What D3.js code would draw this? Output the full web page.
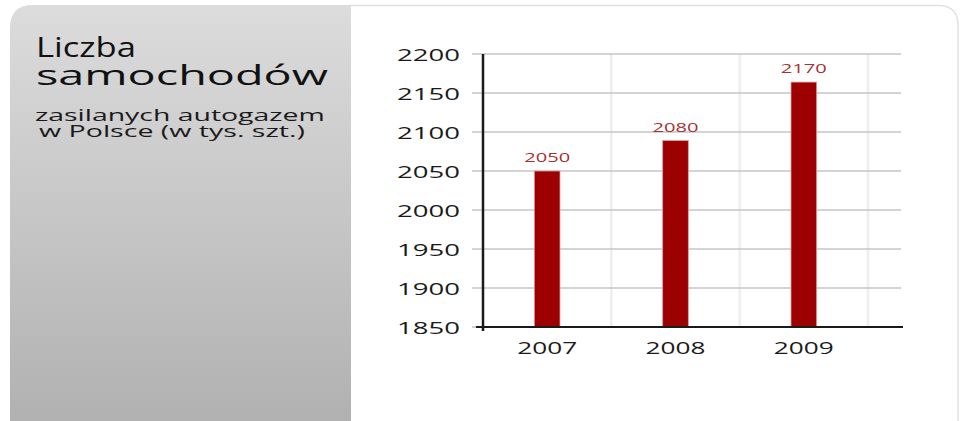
<!DOCTYPE html>
<html>
<head>
<meta charset="utf-8">
<script src="https://cdn.jsdelivr.net/npm/d3@7"></script>
<style>
  body { margin: 0; background: #fff; }
  svg { display: block; }
</style>
</head>
<body>
<svg id="viz" width="964" height="421"></svg>
<script>
// data
var years = ['2007', '2008', '2009'];
var values = [2050, 2089, 2164];          // bar tops as drawn
var valueLabels = ['2050', '2080', '2170']; // labels as printed above bars
var yTicks = [1850, 1900, 1950, 2000, 2050, 2100, 2150, 2200];
var titleLines = ['Liczba', 'samochodów'];
var subtitleLines = ['zasilanych autogazem', 'w Polsce (w tys. szt.)'];

var svg = d3.select('#viz');
var font = "'Open Sans', 'DejaVu Sans', sans-serif";

// the reference text is stretched sideways, so squeeze/stretch each text to a width
const fitWidth = (sel, width) => {
  sel.each(function () {
    var t = d3.select(this);
    var px = +t.attr('x') || 0;
    var py = +t.attr('y') || 0;
    var w = this.getComputedTextLength();
    var old = t.attr('transform') || '';
    t.attr('x', 0).attr('y', 0)
      .attr('transform', old + ' translate(' + px + ',' + py + ') scale(' + (width / w) + ',1)');
  });
};

// grey side panel with gradient
var grad = svg.append('defs').append('linearGradient')
  .attr('id', 'panelGrad')
  .attr('x1', 0).attr('y1', 0).attr('x2', 0).attr('y2', 1);
grad.append('stop').attr('offset', '0%').attr('stop-color', '#dcdcdc');
grad.append('stop').attr('offset', '100%').attr('stop-color', '#b1b1b1');

// outer frame (faint)
svg.append('path')
  .attr('d', 'M350,5.5 H938 Q958,5.5 958,25 V421')
  .attr('fill', 'none')
  .attr('stroke', '#e2e2e2')
  .attr('stroke-width', 1.5);

svg.append('path')
  .attr('d', 'M10,421 V28 Q10,5 33,5 H351 V421 Z')
  .attr('fill', 'url(#panelGrad)');

// title texts
var titleLens = [100, 292];
svg.selectAll('.title')
  .data(titleLines)
  .enter()
  .append('text')
  .attr('class', 'title')
  .attr('x', 36)
  .attr('y', function (d, i) { return 57 + i * 28; })
  .style('font-family', font)
  .style('font-size', '28px')
  .style('fill', '#111')
  .text(function (d) { return d; })
  .each(function (d, i) { fitWidth(d3.select(this), titleLens[i]); });

var subLens = [290, 266];
svg.selectAll('.subtitle')
  .data(subtitleLines)
  .enter()
  .append('text')
  .attr('class', 'subtitle')
  .attr('x', function (d, i) { return i == 0 ? 35 : 39; })
  .attr('y', function (d, i) { return 121 + i * 16; })
  .style('font-family', font)
  .style('font-size', '17px')
  .style('fill', '#1a1a1a')
  .text(function (d) { return d; })
  .each(function (d, i) { fitWidth(d3.select(this), subLens[i]); });

// scales
var y = d3.scaleLinear().domain([1850, 2200]).range([327, 54]);
var x = d3.scaleBand()
  .domain(years)
  .range([483, 868])
  .paddingInner(0.8)
  .paddingOuter(0.4);

// vertical light grid at band boundaries
svg.selectAll('.vgrid')
  .data(years)
  .enter()
  .append('line')
  .attr('class', 'vgrid')
  .attr('x1', function (d) { return x(d) + x.bandwidth() / 2 + x.step() / 2; })
  .attr('x2', function (d) { return x(d) + x.bandwidth() / 2 + x.step() / 2; })
  .attr('y1', y(2200))
  .attr('y2', y(1850))
  .attr('stroke', '#eeeeee')
  .attr('stroke-width', 2.5);

// horizontal grid
svg.selectAll('.hgrid')
  .data(yTicks)
  .enter()
  .append('line')
  .attr('class', 'hgrid')
  .attr('x1', 472)
  .attr('x2', 901)
  .attr('y1', function (d) { return y(d); })
  .attr('y2', function (d) { return y(d); })
  .attr('stroke', '#c6c6c6')
  .attr('stroke-width', 1.5);

// y axis
var yAxis = svg.append('g')
  .attr('transform', 'translate(483,0)')
  .call(d3.axisLeft(y).tickValues(yTicks).tickFormat(d3.format('d')).tickSize(0).tickPadding(23));
yAxis.select('.domain').remove();
yAxis.selectAll('text')
  .attr('dy', '0.36em')
  .style('font-family', font)
  .style('font-size', '17px')
  .style('fill', '#1a1a1a');
yAxis.selectAll('text').each(function () {
  var t = d3.select(this);
  var w = this.getComputedTextLength();
  t.attr('transform', 'translate(' + t.attr('x') + ',0) scale(' + (63 / w) + ',1)').attr('x', 0);
});

// bars
svg.selectAll('.bar')
  .data(values)
  .enter()
  .append('rect')
  .attr('class', 'bar')
  .attr('x', function (d, i) { return x(years[i]); })
  .attr('y', function (d) { return y(d); })
  .attr('width', x.bandwidth())
  .attr('height', function (d) { return y(1850) - y(d); })
  .attr('fill', '#9c0000')
  .attr('stroke', '#d9a0a0')
  .attr('stroke-width', 0.8);

// value labels
svg.selectAll('.vlabel')
  .data(values)
  .enter()
  .append('text')
  .attr('class', 'vlabel')
  .attr('x', function (d, i) { return x(years[i]) + x.bandwidth() / 2; })
  .attr('y', function (d) { return y(d) - 9; })
  .attr('text-anchor', 'middle')
  .style('font-family', font)
  .style('font-size', '13px')
  .style('fill', '#a83030')
  .text(function (d, i) { return valueLabels[i]; })
  .each(function () { fitWidth(d3.select(this), 46); });

// axis lines
svg.append('line')
  .attr('x1', 476).attr('x2', 903)
  .attr('y1', y(1850)).attr('y2', y(1850))
  .attr('stroke', '#1a1a1a').attr('stroke-width', 2);
svg.append('line')
  .attr('x1', 483).attr('x2', 483)
  .attr('y1', y(2200)).attr('y2', y(1850) + 4)
  .attr('stroke', '#1a1a1a').attr('stroke-width', 2.5);

// x axis labels
var xAxis = svg.append('g')
  .attr('transform', 'translate(0,' + y(1850) + ')')
  .call(d3.axisBottom(x).tickSize(0).tickPadding(16));
xAxis.select('.domain').remove();
xAxis.selectAll('text')
  .style('font-family', font)
  .style('font-size', '16px')
  .style('fill', '#1a1a1a');
xAxis.selectAll('text').each(function () {
  var t = d3.select(this);
  var w = this.getComputedTextLength();
  t.attr('transform', 'translate(0,' + t.attr('y') + ') scale(' + (60 / w) + ',1)').attr('y', 0);
});
</script>
</body>
</html>
